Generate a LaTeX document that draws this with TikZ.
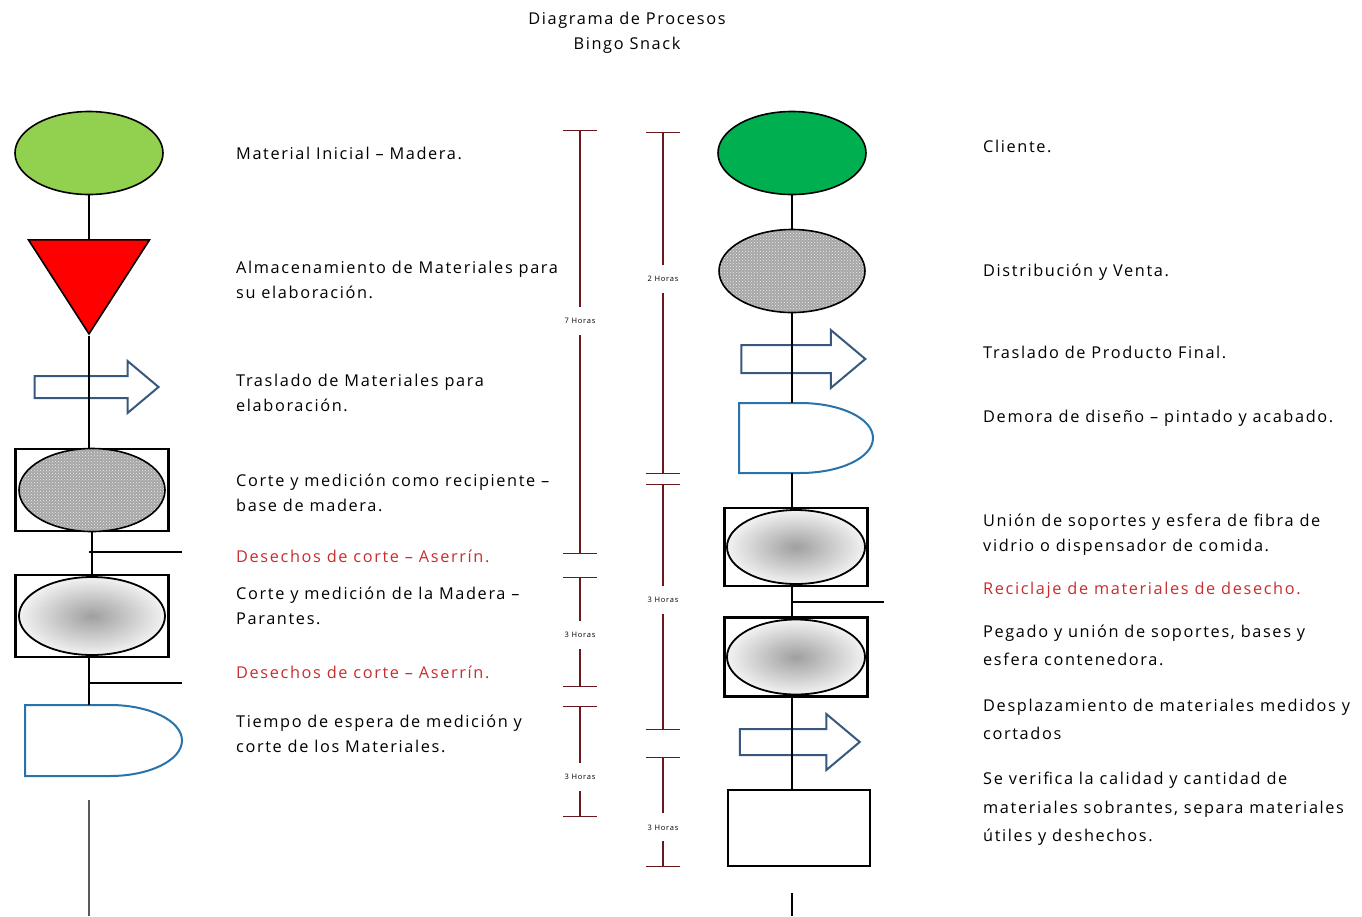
\documentclass[tikz,border=0pt]{standalone}
\usepackage{fontspec}
\setmainfont[LetterSpace=10]{Open Sans}
\usepackage{tikz}
\usetikzlibrary{shapes.geometric,shapes.arrows,positioning,calc,patterns,arrows.meta}

\definecolor{verdeclaro}{RGB}{146,208,80}
\definecolor{verdeoscuro}{RGB}{0,176,80}
\definecolor{rojo}{RGB}{255,0,0}
\definecolor{flecha}{RGB}{56,88,125}
\definecolor{demora}{RGB}{40,115,170}
\definecolor{vino}{RGB}{105,25,30}
\definecolor{desecho}{RGB}{200,45,45}

\tikzset{
  txt/.style={anchor=west, align=left, inner sep=0pt, font=\fontsize{16.3}{25}\selectfont},
  redtxt/.style={txt, text=desecho},
  inicio/.style={ellipse, draw, line width=1.6pt, minimum width=148, minimum height=83},
  textura/.style={ellipse, draw, line width=1.6pt, preaction={fill=gray!70}, pattern=crosshatch dots, pattern color=gray!15, minimum width=146, minimum height=83},
  sombra/.style={ellipse, draw, line width=1.8pt, inner color=gray!75, outer color=gray!10, minimum width=146, minimum height=78},
  caja/.style={rectangle, draw, line width=2.2pt, minimum width=153, minimum height=82},
  traslado/.style={single arrow, draw=flecha, line width=2pt, fill=white, minimum height=124, single arrow head extend=15, inner xsep=0pt, inner ysep=10pt, single arrow tip angle=80},
  espera/.style={draw=demora, line width=2pt, fill=white},
  linea/.style={line width=1.2pt},
  tramo/.style={draw=vino, line width=1.1pt, arrows={Bar[width=34pt]-Bar[width=34pt]}},
  horas/.style={fill=white, inner xsep=1pt, minimum height=28, text=black, font=\fontsize{7.5}{8}\selectfont}
}

\begin{document}
\begin{tikzpicture}[x=1pt, y=-1pt]
    \useasboundingbox (0,0) rectangle (1362,916);

    % Title
    \node[align=center, font=\fontsize{16.3}{25}\selectfont] (titulo) at (627,33) {Diagrama de Procesos\\Bingo Snack};

    % Left column
    \node[inicio, fill=verdeclaro] (inicial) at (89,153) {};
    \node[isosceles triangle, shape border rotate=270, isosceles triangle stretches, minimum width=121, minimum height=94, inner sep=0pt, draw, line width=1.6pt, fill=rojo, anchor=apex] (almacen) at (89,336) {};
    \node[traslado] (traslado1) at (90,387) {};
    \node[caja] (corte1) at (92,490) {};
    \node[textura] (corte1e) at (92,490) {};
    \node[caja] (corte2) at (92,616) {};
    \node[sombra] (corte2e) at (92,616) {};
    \draw[espera] (25,705) -- (110,705) .. controls (149.7,705) and (182,720.9) .. (182,740.5) .. controls (182,760.1) and (149.7,776) .. (110,776) -- (25,776) -- cycle;
    \coordinate (espera1) at (89,705);
    \coordinate (rama1) at (182,552);
    \coordinate (rama2) at (182,683);
    \coordinate (fin1) at (89,800);
    \coordinate (fin2) at (89,916);

    \draw[linea] (inicial) -- (almacen);
    \draw[linea] (almacen.apex) -- (corte1.north -| almacen.apex);
    \draw[linea] (corte1) -- (corte2);
    \draw[linea] (corte2.south -| espera1) -- (espera1);
    \draw[linea] (rama1 -| inicial) -- (rama1);
    \draw[linea] (rama2 -| inicial) -- (rama2);
    \draw[linea, gray!70!black] (fin1) -- (fin2);

    % Right column
    \node[inicio, fill=verdeoscuro] (cliente) at (792,153) {};
    \node[textura] (distrib) at (792,271) {};
    \node[traslado, inner ysep=13pt] (traslado2) at (795,359) {};
    \draw[espera] (739,403) -- (800,403) .. controls (840.3,403) and (873,418.3) .. (873,438) .. controls (873,457.7) and (840.3,473) .. (800,473) -- (739,473) -- cycle;
    \coordinate (demora2n) at (792,403);
    \coordinate (demora2s) at (792,473);
    \node[caja, minimum width=143, minimum height=78] (union) at (796,547) {};
    \node[sombra, minimum width=138, minimum height=74] (unione) at (796,547) {};
    \node[caja, minimum width=143, minimum height=79] (pegado) at (796,657) {};
    \node[sombra, minimum width=138, minimum height=75] (pegadoe) at (796,657) {};
    \node[traslado, inner ysep=12pt, minimum height=120] (traslado3) at (792,742) {};
    \node[caja, minimum width=142, minimum height=76, fill=white] (verifica) at (799,828) {};
    \coordinate (rama3) at (884,602);
    \coordinate (fin3) at (792,893);
    \coordinate (fin4) at (792,916);

    \draw[linea] (cliente) -- (distrib);
    \draw[linea] (distrib) -- (demora2n);
    \draw[linea] (demora2s) -- (union.north -| demora2s);
    \draw[linea] (union.south -| demora2s) -- (pegado.north -| demora2s);
    \draw[linea] (pegado.south -| demora2s) -- (verifica.north -| demora2s);
    \draw[linea] (rama3 -| cliente) -- (rama3);
    \draw[linea] (fin3) -- (fin4);

    % Time bars
    \foreach \x/\a/\b/\p/\h in {580/130/554/0.45/7, 580/577/687/0.53/3, 580/706/817/0.64/3,
                                663/132/474/0.43/2, 663/484/730/0.47/3, 663/757/867/0.64/3}
        \draw[tramo] (\x,\a) -- (\x,\b) node[pos=\p, horas] {\h\ Horas};

    % Labels
    \node[txt] (tinicial) at (236,153) {Material Inicial – Madera.};
    \node[txt] (talmacen) at (236,279.5) {Almacenamiento de Materiales para\\su elaboración.};
    \node[txt] (ttraslado1) at (236,393) {Traslado de Materiales para\\elaboración.};
    \node[txt] (tcorte1) at (236,493) {Corte y medición como recipiente –\\base de madera.};
    \node[redtxt] (tdesecho1) at (236,556) {Desechos de corte – Aserrín.};
    \node[txt] (tcorte2) at (236,605.5) {Corte y medición de la Madera –\\Parantes.};
    \node[redtxt] (tdesecho2) at (236,672) {Desechos de corte – Aserrín.};
    \node[txt] (tespera) at (236,733.5) {Tiempo de espera de medición y\\corte de los Materiales.};

    \node[txt] (tcliente) at (983,146) {Cliente.};
    \node[txt] (tdistrib) at (983,272) {Distribución y Venta.};
    \node[txt] (ttraslado2) at (983,352) {Traslado de Producto Final.};
    \node[txt] (tdemora) at (983,418) {Demora de diseño – pintado y acabado.};
    \node[txt] (tunion) at (983,534.5) {Unión de soportes y esfera de fibra de\\vidrio o dispensador de comida.};
    \node[redtxt] (treciclaje) at (983,590) {Reciclaje de materiales de desecho.};
    \node[txt] (tpegado) at (983,645) {Pegado y unión de soportes, bases y\\[3pt]esfera contenedora.};
    \node[txt] (tdesplaza) at (983,719) {Desplazamiento de materiales medidos y\\[3pt]cortados};
    \node[txt] (tverifica) at (983,809) {Se verifica la calidad y cantidad de\\[4pt]materiales sobrantes, separa materiales\\[3pt]útiles y deshechos.};

\end{tikzpicture}
\end{document}
